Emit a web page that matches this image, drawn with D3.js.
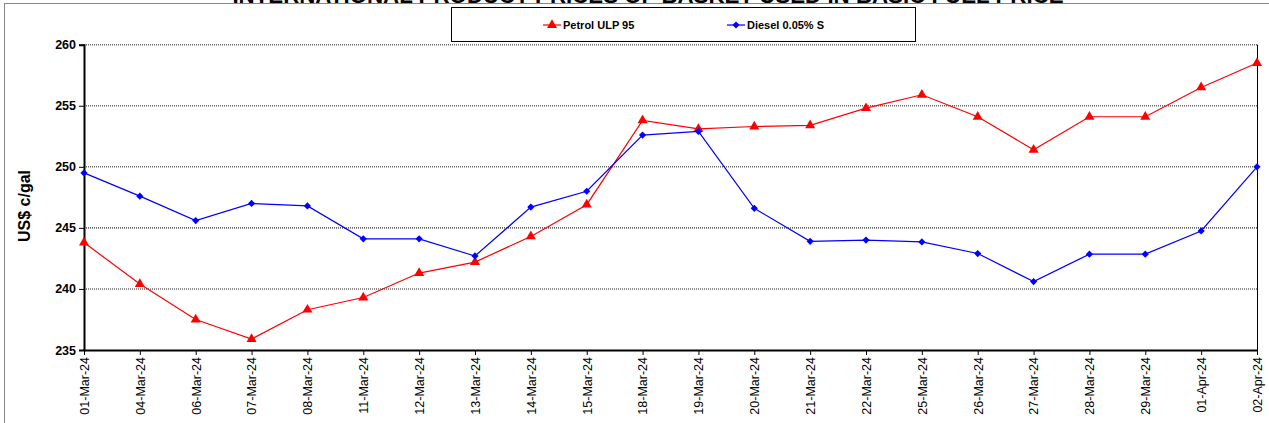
<!DOCTYPE html>
<html>
<head>
<meta charset="utf-8">
<script src="https://cdn.jsdelivr.net/npm/d3@7"></script>
<style>
  body { margin: 0; background: #fff; }
  svg { display: block; font-family: Arial, "Liberation Sans", sans-serif; }
</style>
</head>
<body>
<script>
var dates = ["01-Mar-24","04-Mar-24","06-Mar-24","07-Mar-24","08-Mar-24","11-Mar-24","12-Mar-24",
  "13-Mar-24","14-Mar-24","15-Mar-24","18-Mar-24","19-Mar-24","20-Mar-24","21-Mar-24","22-Mar-24",
  "25-Mar-24","26-Mar-24","27-Mar-24","28-Mar-24","29-Mar-24","01-Apr-24","02-Apr-24"];
var petrol = [243.8, 240.4, 237.5, 235.9, 238.3, 239.3, 241.3, 242.2, 244.3, 246.9, 253.8,
  253.1, 253.3, 253.4, 254.8, 255.9, 254.1, 251.4, 254.1, 254.1, 256.5, 258.5];
var diesel = [249.5, 247.6, 245.6, 247.0, 246.8, 244.1, 244.1, 242.7, 246.7, 248.0, 252.6,
  252.9, 246.6, 243.9, 244.0, 243.85, 242.9, 240.6, 242.85, 242.85, 244.75, 250.0];
var yTicks = [235, 240, 245, 250, 255, 260];
var seriesNames = ["Petrol ULP 95", "Diesel 0.05% S"];

var W = 1269, H = 423;
var plot = {left: 84, right: 1257, top: 44.7, bottom: 350};

var svg = d3.select("body").append("svg")
    .attr("width", W)
    .attr("height", H);

svg.append("rect").attr("width", W).attr("height", H).attr("fill", "#fff");

// outer chart frame
svg.append("rect")
    .attr("x", 4.5).attr("y", 3.5)
    .attr("width", W + 20).attr("height", H + 20)
    .attr("fill", "none")
    .attr("stroke", "#888")
    .attr("stroke-width", 1);

// title (mostly off the top of the picture, as in the source)
svg.append("text")
    .attr("x", 648).attr("y", 3)
    .attr("text-anchor", "middle")
    .attr("font-weight", "bold")
    .attr("font-size", "22.3px")
    .text("INTERNATIONAL PRODUCT PRICES OF BASKET USED IN BASIC FUEL PRICE");

var xScale = d3.scalePoint().domain(dates).range([plot.left, plot.right]).padding(0);
var yScale = d3.scaleLinear().domain([235, 260]).range([plot.bottom, plot.top]);

// gridlines
svg.append("g")
    .selectAll("line")
    .data(yTicks.filter(function(d) { return d > 235; }))
  .enter().append("line")
    .attr("x1", plot.left).attr("x2", plot.right)
    .attr("y1", function(d) { return yScale(d); })
    .attr("y2", function(d) { return yScale(d); })
    .attr("stroke", "#666")
    .attr("stroke-width", 1.6)
    .attr("stroke-dasharray", "1,1");

// right border of plot area
svg.append("line")
    .attr("x1", plot.right + 0.5).attr("x2", plot.right + 0.5)
    .attr("y1", plot.top).attr("y2", plot.bottom)
    .attr("stroke", "#000");

var yAxis = d3.axisLeft(yScale).tickValues(yTicks).tickSize(5).tickFormat(d3.format("d"));
var gy = svg.append("g")
    .attr("transform", "translate(" + plot.left + ",0)")
    .call(yAxis);
gy.select(".domain").attr("stroke-width", 2);
gy.selectAll("text")
    .attr("font-family", "Arial, 'Liberation Sans', sans-serif")
    .attr("font-size", "12.5px")
    .attr("font-weight", "bold")
    .attr("x", -8)
    .attr("fill", "#000");

var xAxis = d3.axisBottom(xScale).tickSize(5).tickSizeOuter(0);
var gx = svg.append("g")
    .attr("transform", "translate(0," + plot.bottom + ")")
    .call(xAxis);
gx.select(".domain").attr("stroke-width", 2);
gx.selectAll("text")
    .attr("font-family", "Arial, 'Liberation Sans', sans-serif")
    .attr("font-size", "12.5px")
    .attr("fill", "#000")
    .attr("transform", "rotate(-90)")
    .attr("x", -7)
    .attr("y", 0)
    .attr("dy", "0.35em")
    .style("text-anchor", "end");

// y axis title
svg.append("text")
    .attr("transform", "translate(30,206) rotate(-90)")
    .attr("text-anchor", "middle")
    .attr("font-weight", "bold")
    .attr("font-size", "16px")
    .text("US$ c/gal");

var line = d3.line()
    .x(function(d, i) { return xScale(dates[i]); })
    .y(function(d) { return yScale(d); });

var series = [
  {name: seriesNames[0], values: petrol, color: "#ff0000", symbol: d3.symbolTriangle, size: 44, rot: 0},
  {name: seriesNames[1], values: diesel, color: "#0000ff", symbol: d3.symbolSquare, size: 26, rot: 45}
];

series.forEach(function(s) {
  svg.append("path")
      .datum(s.values)
      .attr("fill", "none")
      .attr("stroke", s.color)
      .attr("stroke-width", 1.2)
      .attr("d", line);
  svg.selectAll(null)
      .data(s.values)
    .enter().append("path")
      .attr("transform", function(d, i) {
        return "translate(" + xScale(dates[i]) + "," + yScale(d) + ") rotate(" + s.rot + ")";
      })
      .attr("d", d3.symbol().type(s.symbol).size(s.size))
      .attr("fill", s.color);
});

// legend
svg.append("rect")
    .attr("x", 451.5).attr("y", 7.5)
    .attr("width", 464).attr("height", 34)
    .attr("fill", "#fff")
    .attr("stroke", "#000");

var legendX = [543, 727];
var legend = svg.selectAll(".legend")
    .data(series)
  .enter().append("g")
    .attr("class", "legend")
    .attr("transform", function(d, i) { return "translate(" + legendX[i] + ",25)"; });

legend.append("line")
    .attr("x1", 0).attr("x2", 18)
    .attr("stroke", function(d) { return d.color; })
    .attr("stroke-width", 1.2);
legend.append("path")
    .attr("transform", function(d) { return "translate(9,0) rotate(" + d.rot + ")"; })
    .attr("d", function(d) { return d3.symbol().type(d.symbol).size(d.size)(); })
    .attr("fill", function(d) { return d.color; });
legend.append("text")
    .attr("x", 20)
    .attr("dy", "0.35em")
    .attr("font-size", "11px")
    .attr("font-weight", "bold")
    .text(function(d) { return d.name; });
</script>
</body>
</html>
